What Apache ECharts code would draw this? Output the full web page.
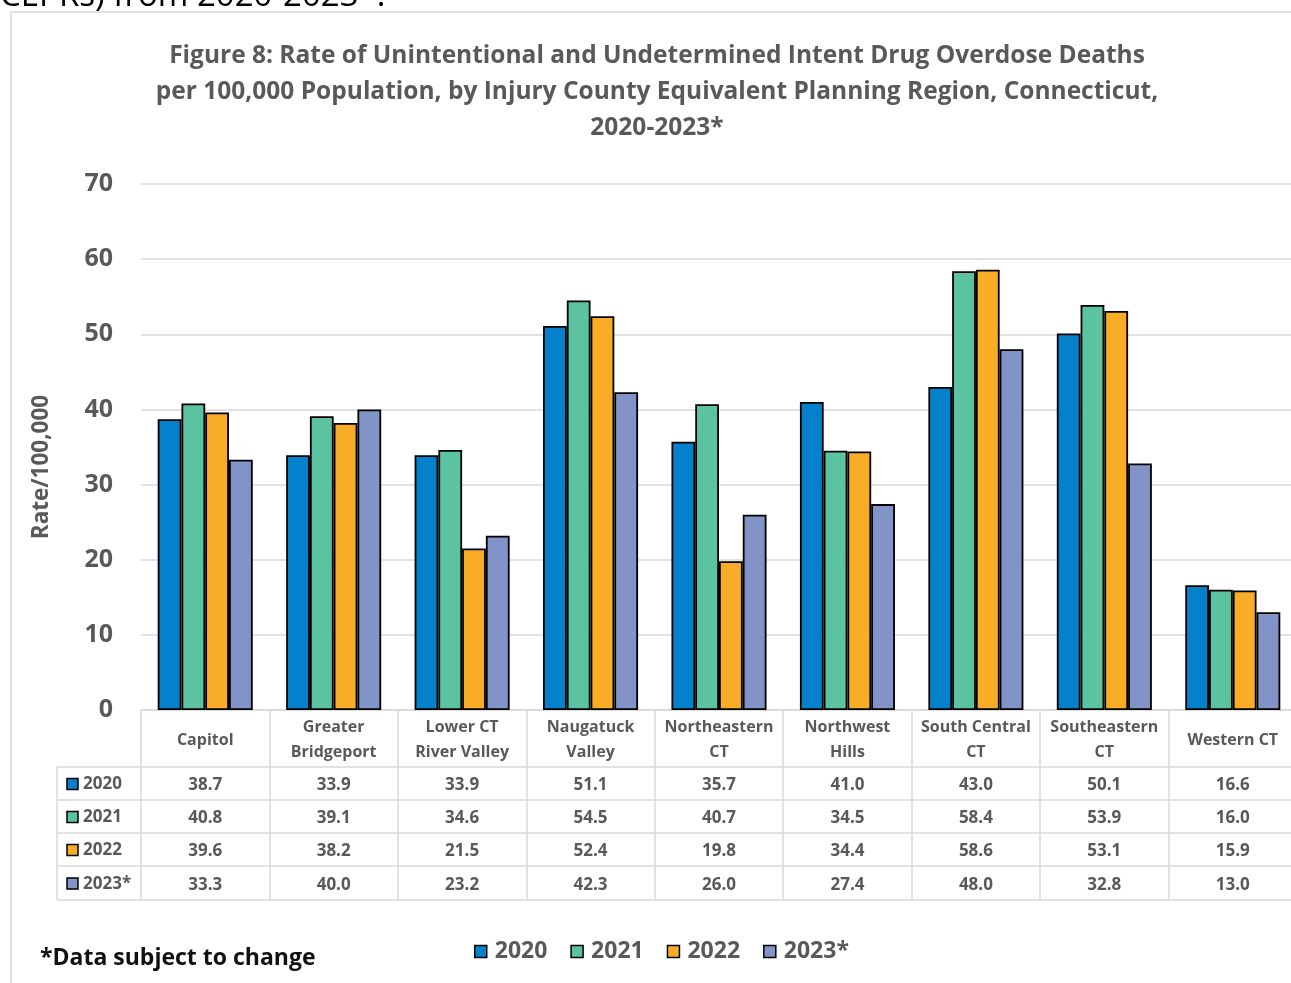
<!DOCTYPE html>
<html>
<head>
<meta charset="utf-8">
<script src="https://cdn.jsdelivr.net/npm/echarts@6/dist/echarts.min.js"></script>
<style>
  html, body { margin: 0; padding: 0; background: #fff; overflow: hidden; }
  /* canvas runs a few pixels past the right edge, like the framed chart it shows */
  #chart { width: 1297px; height: 983px; }
</style>
</head>
<body>
<div id="chart"></div>
<script>
// Planning regions (category axis) and rates per 100,000 by year
const regions = ['Capitol', 'Greater\nBridgeport', 'Lower CT\nRiver Valley', 'Naugatuck\nValley',
  'Northeastern\nCT', 'Northwest\nHills', 'South Central\nCT', 'Southeastern\nCT', 'Western CT'];
const years = ['2020', '2021', '2022', '2023*'];
const rate2020 = [38.7, 33.9, 33.9, 51.1, 35.7, 41.0, 43.0, 50.1, 16.6];
const rate2021 = [40.8, 39.1, 34.6, 54.5, 40.7, 34.5, 58.4, 53.9, 16.0];
const rate2022 = [39.6, 38.2, 21.5, 52.4, 19.8, 34.4, 58.6, 53.1, 15.9];
const rate2023 = [33.3, 40.0, 23.2, 42.3, 26.0, 27.4, 48.0, 32.8, 13.0];
const yTicks = [0, 10, 20, 30, 40, 50, 60, 70];

const rates = [rate2020, rate2021, rate2022, rate2023];
const colors = ['#0580CA', '#5CC3A2', '#F9AD27', '#8193C7'];

const FONT = '"Open Sans", sans-serif';
const TXT = '#595959';
const LINE = '#d9d9d9';

const chart = echarts.init(document.getElementById('chart'), null, { renderer: 'canvas' });

// Table geometry below the plot
const axisY = 710;
const rowLines = [767, 800, 833, 866, 900];
const tableLeft = 57;
const tableRight = 1297;

const dataAxes = rates.map((arr, i) => ({
  type: 'category',
  gridIndex: 0,
  position: 'bottom',
  data: regions,
  axisLine: { show: false },
  axisTick: { show: false },
  splitLine: { show: false },
  axisLabel: {
    interval: 0,
    margin: (rowLines[i] + rowLines[i + 1]) / 2 - axisY + 2,
    verticalAlign: 'middle',
    fontFamily: FONT, fontWeight: 'bold', fontSize: 17, color: TXT,
    formatter: (v, idx) => arr[idx].toFixed(1)
  }
}));

const graphics = [
  // outer frame
  { type: 'rect', silent: true, shape: { x: 11, y: 12, width: 1400, height: 1100 },
    style: { fill: 'none', stroke: LINE, lineWidth: 1.5 } },
  // running text from the page above
  { type: 'text', silent: true, x: 0, y: 13,
    style: { text: 'CEPRs) from 2020-2023*.', font: '33px ' + FONT, fill: '#000',
      verticalAlign: 'bottom', align: 'left' } },
  // footnote
  { type: 'text', silent: true, x: 40, y: 958,
    style: { text: '*Data subject to change', font: 'bold 23px ' + FONT, fill: '#111',
      verticalAlign: 'middle', align: 'left' } },
  // value axis title
  { type: 'text', silent: true, x: 42, y: 467, rotation: Math.PI / 2,
    style: { text: 'Rate/100,000', font: 'bold 22.5px ' + FONT, fill: TXT,
      verticalAlign: 'middle', align: 'center' } },
  // table left edge
  { type: 'line', silent: true, shape: { x1: tableLeft, y1: rowLines[0], x2: tableLeft, y2: rowLines[4] },
    style: { stroke: LINE, lineWidth: 1.5 } }
];
rowLines.forEach(y => graphics.push({
  type: 'line', silent: true, shape: { x1: tableLeft, y1: y, x2: tableRight, y2: y },
  style: { stroke: LINE, lineWidth: 1.5 }
}));
years.forEach((yr, i) => {
  const cy = (rowLines[i] + rowLines[i + 1]) / 2;
  graphics.push({ type: 'rect', silent: true, shape: { x: 67, y: cy - 5, width: 11, height: 11 },
    style: { fill: colors[i], stroke: '#000', lineWidth: 1.5 } });
  graphics.push({ type: 'text', silent: true, x: 83, y: cy + 1,
    style: { text: yr, font: 'bold 17px ' + FONT, fill: TXT, verticalAlign: 'middle', align: 'left' } });
});

const option = {
  backgroundColor: '#fff',
  animation: false,
  title: {
    text: 'Figure 8: Rate of Unintentional and Undetermined Intent Drug Overdose Deaths\nper 100,000 Population, by Injury County Equivalent Planning Region, Connecticut,\n2020-2023*',
    left: 652, top: 33, textAlign: 'center',
    textStyle: { fontFamily: FONT, fontWeight: 'bold', fontSize: 24.5, color: TXT, lineHeight: 36 }
  },
  legend: {
    data: years,
    left: 469, top: 935,
    itemWidth: 12, itemHeight: 12, itemGap: 23,
    icon: 'rect',
    itemStyle: { borderColor: '#000', borderWidth: 1.5 },
    textStyle: { fontFamily: FONT, fontWeight: 'bold', fontSize: 23, color: TXT, padding: [0, 0, 0, 3] }
  },
  grid: { left: 141, right: 0, top: 184, bottom: 983 - axisY, containLabel: false },
  xAxis: [{
    type: 'category',
    data: regions,
    axisLine: { show: true, lineStyle: { color: LINE, width: 1.5 } },
    axisTick: { show: true, interval: 0, length: rowLines[4] - axisY, lineStyle: { color: LINE, width: 1.5 } },
    axisLabel: {
      interval: 0, margin: (axisY + rowLines[0]) / 2 - axisY + 1.5, verticalAlign: 'middle',
      fontFamily: FONT, fontWeight: 'bold', fontSize: 16, color: TXT, lineHeight: 25
    }
  }].concat(dataAxes),
  yAxis: {
    type: 'value',
    min: yTicks[0], max: yTicks[yTicks.length - 1], interval: 10,
    axisLine: { show: false },
    axisTick: { show: false },
    axisLabel: { margin: 28, fontFamily: FONT, fontWeight: 'bold', fontSize: 25, color: TXT },
    splitLine: { lineStyle: { color: LINE, width: 1.5 } }
  },
  series: rates.map((arr, i) => ({
    name: years[i],
    type: 'bar',
    xAxisIndex: 0,
    data: arr,
    barGap: '0%',
    barCategoryGap: '26%',
    itemStyle: { color: colors[i], borderColor: '#000', borderWidth: 1.8 }
  })),
  graphic: graphics
};

chart.setOption(option);
</script>
</body>
</html>
